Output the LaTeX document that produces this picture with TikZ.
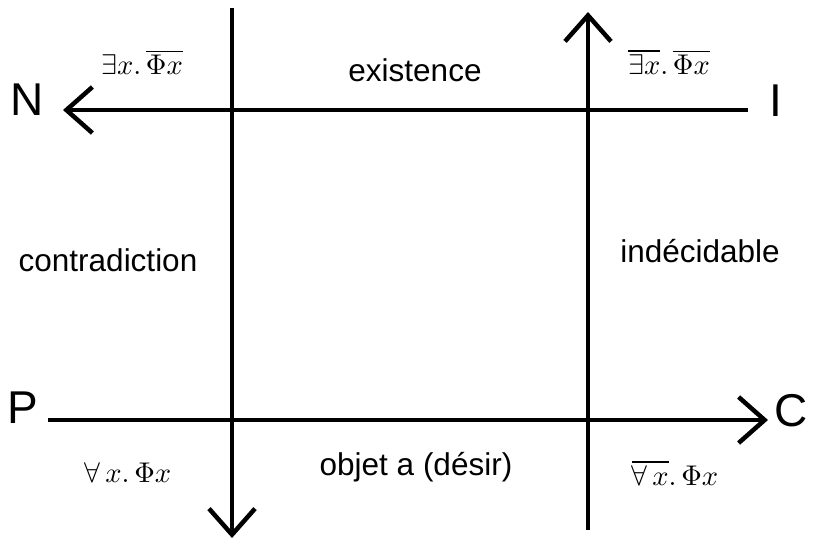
\documentclass[tikz,border=0pt]{standalone}
\usepackage{fontspec}
\setmainfont{Liberation Sans}
\usetikzlibrary{arrows.meta}
\begin{document}
\begin{tikzpicture}[x=1pt,y=-1pt,
  axis/.style={line width=4.5pt,-{Straight Barb[length=26pt,width=46pt,line width=4.5pt]}},
  big/.style={font=\fontsize{46}{50}\selectfont,inner sep=0pt},
  word/.style={font=\fontsize{31.5}{35}\selectfont,inner sep=0pt},
  form/.style={inner sep=0pt,scale=2.85,transform shape}]
\useasboundingbox[fill=white] (0,0) rectangle (813,547);
% letters
\node[big] (N) at (27,100) {N};
\node[big] (I) at (776,101) {I};
\node[big] (P) at (23,408) {P};
\node[big] (C) at (791,411) {C};
% line ends
\coordinate (ts) at (748,110);
\coordinate (te) at (63,110);
\coordinate (bs) at (48,420);
\coordinate (be) at (768,420);
\coordinate (ls) at (232,8);
\coordinate (le) at (232,538);
\coordinate (rs) at (588,530);
\coordinate (re) at (588,12);
\draw[axis] (ts) -- (te);
\draw[axis] (bs) -- (be);
\draw[axis] (ls) -- (le);
\draw[axis] (rs) -- (re);
% words
\node[word] (ex) at (415,70) {existence};
\node[word] (co) at (108,260) {contradiction};
\node[word] (in) at (700,251) {indécidable};
\node[word] (ob) at (416,467) {objet a (désir)};
% formulas
\node[form] (f1) at (142,62) {$\exists x.\,\overline{\Phi x}$};
\node[form] (f2) at (669,62) {$\overline{\exists x}.\,\overline{\Phi x}$};
\node[form] (f3) at (128,473) {$\forall\, x.\,\Phi x$};
\node[form] (f4) at (675,473) {$\overline{\forall\, x}.\,\Phi x$};
\end{tikzpicture}
\end{document}
